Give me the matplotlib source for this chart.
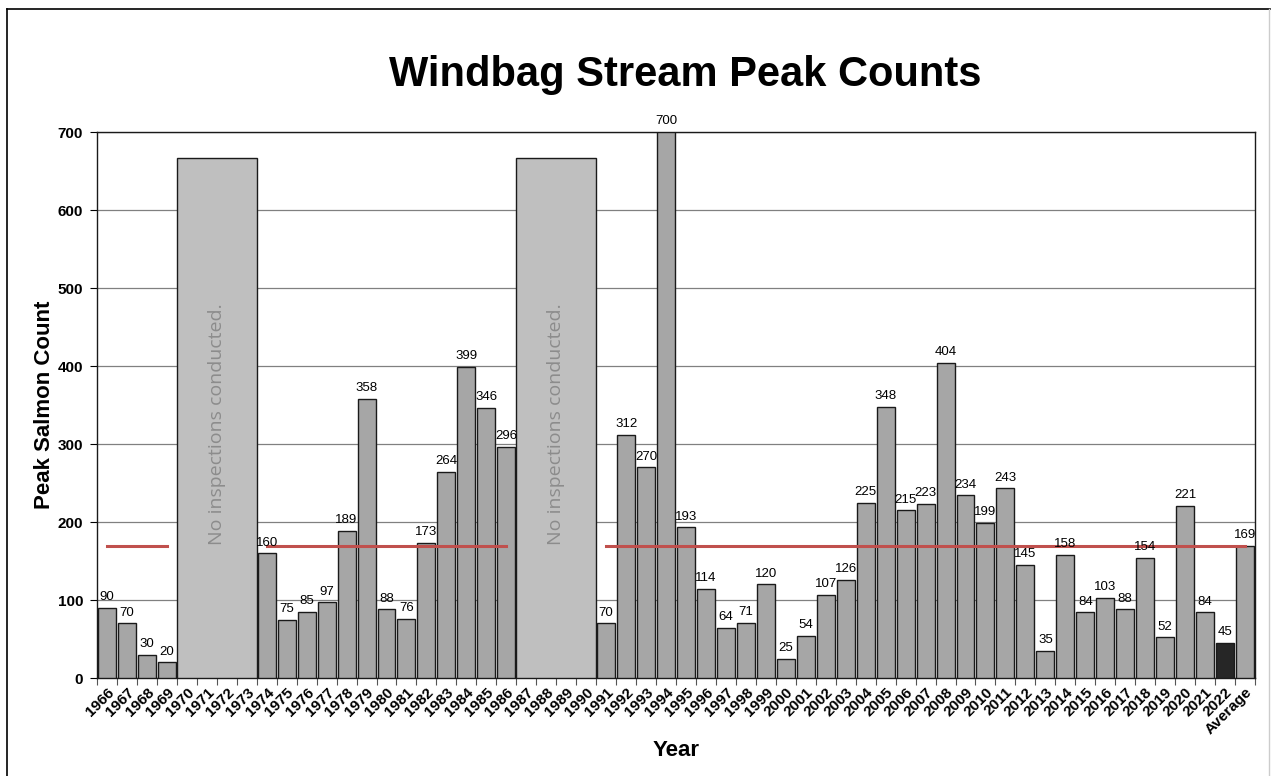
import numpy as np
import matplotlib
matplotlib.use("Agg")
import matplotlib.pyplot as plt
from matplotlib.lines import Line2D

plt.rcParams['font.family'] = ['Liberation Sans', 'DejaVu Sans']

categories = [str(y) for y in range(1966, 2023)] + ["Average"]
counts = [90, 70, 30, 20, None, None, None, None, 160, 75, 85, 97, 189, 358,
          88, 76, 173, 264, 399, 346, 296, None, None, None, None, 70, 312, 270,
          700, 193, 114, 64, 71, 120, 25, 54, 107, 126, 225, 348, 215, 223, 404,
          234, 199, 243, 145, 35, 158, 84, 103, 88, 154, 52, 221, 84, 45, 169]
average_value = 169
gap_ranges = [("1970", "1973"), ("1987", "1990")]
gap_height = 667
gap_text = "No inspections conducted."
title = "Windbag Stream Peak Counts"
ylabel = "Peak Salmon Count"
xlabel = "Year"
highlight = "2022"

fig = plt.figure(figsize=(12.71, 7.76), dpi=100)
ax = fig.add_axes([97/1271, 1-678/776, (1255-97)/1271, (678-132)/776])

x = np.arange(len(categories))
for i, (cat, v) in enumerate(zip(categories, counts)):
    if v is None:
        continue
    color = '#262626' if cat == highlight else '#a6a6a6'
    ax.bar(i, v, width=0.9, color=color, edgecolor='#1a1a1a', linewidth=1.0, zorder=3)
    ax.text(i, v + 6, str(v), ha='center', va='bottom', fontsize=9.5, color='black',
            zorder=5, clip_on=False)

# no-inspection boxes
for a, b in gap_ranges:
    i0 = categories.index(a); i1 = categories.index(b)
    ax.bar((i0 + i1) / 2, gap_height, width=(i1 - i0 + 1), color='#bfbfbf',
           edgecolor='#1a1a1a', linewidth=1.0, zorder=3)
    ax.text((i0 + i1) / 2, 325, gap_text, rotation=90, ha='center', va='center',
            fontsize=14, color='#8c8c8c', family=['Open Sans', 'DejaVu Sans'], zorder=4)

# average line with gaps
avg_line = [average_value if v is not None else np.nan for v in counts]
ax.plot(x, avg_line, color='#c0504d', linewidth=2.2, zorder=4)

ax.set_xlim(-0.5, len(categories) - 0.5)
ax.set_ylim(0, 700)
ax.set_yticks(range(0, 701, 100))
ax.yaxis.grid(True, color='#808080', linewidth=0.9, zorder=0)
ax.set_axisbelow(True)

ax.set_xticks(np.arange(-0.5, len(categories), 1.0))
ax.set_xticklabels([])
ax.set_xticks(x, minor=True)
ax.set_xticklabels(categories, minor=True, rotation=45, ha='right',
                   rotation_mode='anchor', fontsize=11, fontweight='bold')
ax.tick_params(axis='x', which='major', length=5, width=0.8, color='#555555', direction='out')
ax.tick_params(axis='x', which='minor', length=0, pad=5)
ax.tick_params(axis='y', length=5, width=0.8, labelsize=11, pad=5)
for lab in ax.get_yticklabels():
    lab.set_fontweight('bold')

for s in ax.spines.values():
    s.set_color('#1a1a1a')
    s.set_linewidth(1.0)

ax.set_ylabel(ylabel, fontsize=16, fontweight='bold', labelpad=2)
ax.set_xlabel(xlabel, fontsize=16, fontweight='bold', labelpad=2)
fig.text(685/1271, 1-75/776, title, ha='center', va='center', fontsize=30, fontweight='bold')

# outer border
fig.add_artist(Line2D([7/1271, 7/1271], [0, 1-9/776], transform=fig.transFigure, color='black', linewidth=1.2))
fig.add_artist(Line2D([7/1271, 1270/1271], [1-9/776, 1-9/776], transform=fig.transFigure, color='black', linewidth=1.2))
fig.add_artist(Line2D([1269/1271, 1269/1271], [0, 1-9/776], transform=fig.transFigure, color='#cccccc', linewidth=1.0))

fig.savefig("out.png", dpi=100)
